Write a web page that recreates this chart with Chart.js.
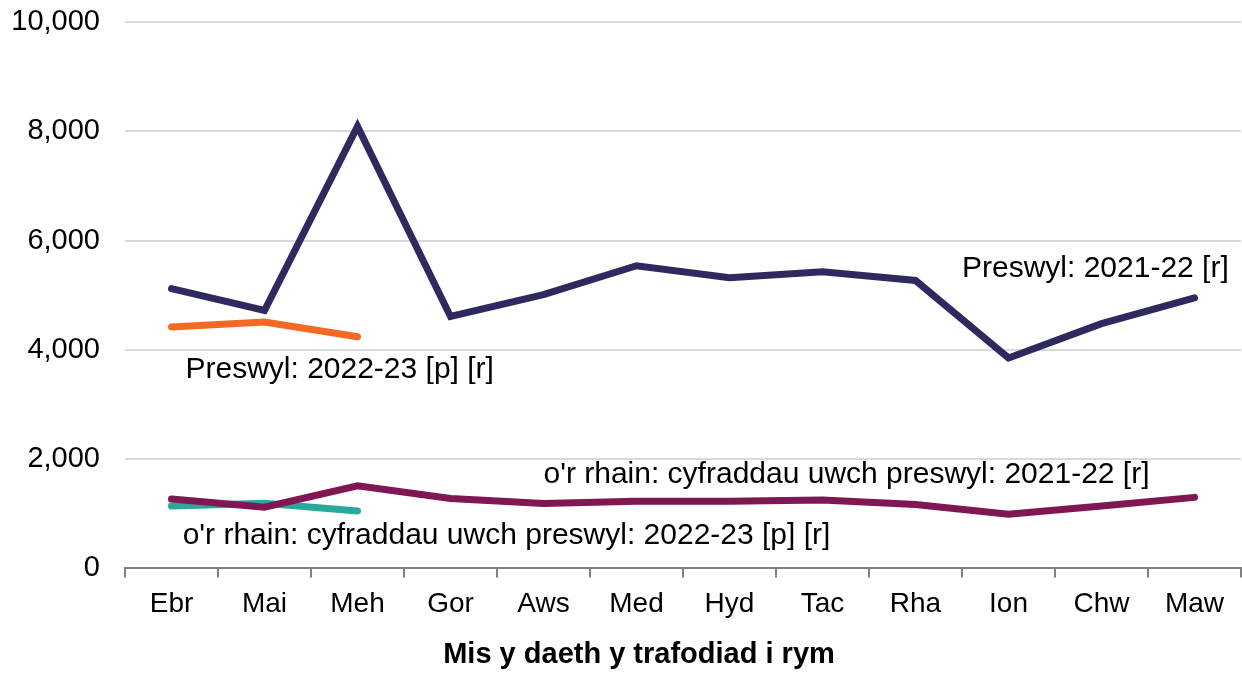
<!DOCTYPE html>
<html>
<head>
<meta charset="utf-8">
<script src="https://cdn.jsdelivr.net/npm/chart.js@4"></script>
<style>
  html, body { margin: 0; padding: 0; background: #fff; }
  #wrap { width: 1242px; height: 679px; position: relative; }
</style>
</head>
<body>
<div id="wrap"><canvas id="chartTrans"></canvas></div>
<script>
/* monthly transactions chart */
const months = ["Ebr", "Mai", "Meh", "Gor", "Aws", "Med", "Hyd", "Tac", "Rha", "Ion", "Chw", "Maw"];
const resi2122 = [5120, 4720, 8090, 4610, 5010, 5540, 5320, 5430, 5270, 3850, 4480, 4950];
const resi2223 = [4420, 4510, 4240];
const higher2122 = [1270, 1120, 1510, 1280, 1190, 1230, 1230, 1250, 1170, 990, 1140, 1300];
const higher2223 = [1140, 1190, 1050];
const yTicks = [0, 2000, 4000, 6000, 8000, 10000];
const xTitle = "Mis y daeth y trafodiad i rym";

// text labels next to the lines: anchored on category index + y value (baseline)
const lineLabels = [
    {text: "Preswyl: 2021-22 [r]", at: 8.5, value: 5340},
    {text: "Preswyl: 2022-23 [p] [r]", at: 0.15, value: 3490},
    {text: "o'r rhain: cyfraddau uwch preswyl: 2021-22 [r]", at: 4, value: 1560},
    {text: "o'r rhain: cyfraddau uwch preswyl: 2022-23 [p] [r]", at: 0.12, value: 440}
];

const FONT = "'Liberation Sans', Arial, sans-serif";

const labelPlugin = {
    id: "lineLabels",
    afterDatasetsDraw(chart) {
        const ctx = chart.ctx;
        const xs = chart.scales.x, ys = chart.scales.y;
        ctx.save();
        ctx.font = "30px " + FONT;
        ctx.fillStyle = "#000";
        ctx.textAlign = "left";
        ctx.textBaseline = "alphabetic";
        lineLabels.forEach(function(l) {
            const i = Math.floor(l.at);
            const x = xs.getPixelForValue(i) + (l.at - i) * (xs.getPixelForValue(1) - xs.getPixelForValue(0));
            ctx.fillText(l.text, x, ys.getPixelForValue(l.value));
        });
        // axis title, sits a bit left of the plot centre in the original
        ctx.font = "bold 29px " + FONT;
        ctx.textAlign = "center";
        ctx.fillText(xTitle, (chart.chartArea.left + chart.chartArea.right) / 2 - 44, 663);
        ctx.restore();
    }
};

function lineSet(data, color) {
    return {
        data: data,
        borderColor: color,
        borderWidth: 7,
        pointRadius: 0,
        pointHoverRadius: 0,
        tension: 0,
        fill: false,
        borderCapStyle: "round",
        borderJoinStyle: "miter"
    };
}

var ctxTrans = document.getElementById("chartTrans").getContext("2d");
var chartTrans = new Chart(ctxTrans, {
    type: "line",
    data: {
        labels: months,
        datasets: [
            lineSet(resi2122, "#2e2a5f"),
            lineSet(resi2223, "#f46a25"),
            lineSet(higher2122, "#7f1752"),
            lineSet(higher2223, "#2aa89b")
        ]
    },
    options: {
        responsive: true,
        maintainAspectRatio: false,
        animation: false,
        layout: {padding: {top: 22, right: 1, left: 0, bottom: 6}},
        plugins: {
            legend: {display: false},
            tooltip: {enabled: false}
        },
        scales: {
            x: {
                type: "category",
                offset: true,
                grid: {
                    display: true,
                    offset: true,
                    drawOnChartArea: false,
                    drawTicks: true,
                    tickLength: 9,
                    color: "#808080",
                    lineWidth: 2
                },
                border: {display: true, color: "#808080", width: 2},
                ticks: {
                    color: "#000",
                    font: {family: FONT, size: 28},
                    padding: 10,
                    maxRotation: 0,
                    autoSkip: false
                },
                title: {
                    // keeps the space; the text itself is drawn by the plugin
                    display: true,
                    text: xTitle,
                    color: "rgba(0,0,0,0)",
                    font: {family: FONT, size: 30, weight: "bold"},
                    padding: {top: 6, bottom: 0}
                }
            },
            y: {
                min: 0,
                max: 10000,
                afterBuildTicks: function(axis) {
                    axis.ticks = yTicks.map(function(v) { return {value: v}; });
                },
                afterFit: function(axis) { axis.width = 125; },
                grid: {
                    color: "#d9d9d9",
                    lineWidth: 2,
                    drawTicks: true,
                    tickLength: 25,
                    tickColor: "rgba(0,0,0,0)"
                },
                border: {display: false},
                ticks: {
                    color: "#000",
                    font: {family: FONT, size: 29},
                    padding: 0,
                    callback: function(v) { return v.toLocaleString("en-GB"); }
                }
            }
        }
    },
    plugins: [labelPlugin]
});
</script>
</body>
</html>
